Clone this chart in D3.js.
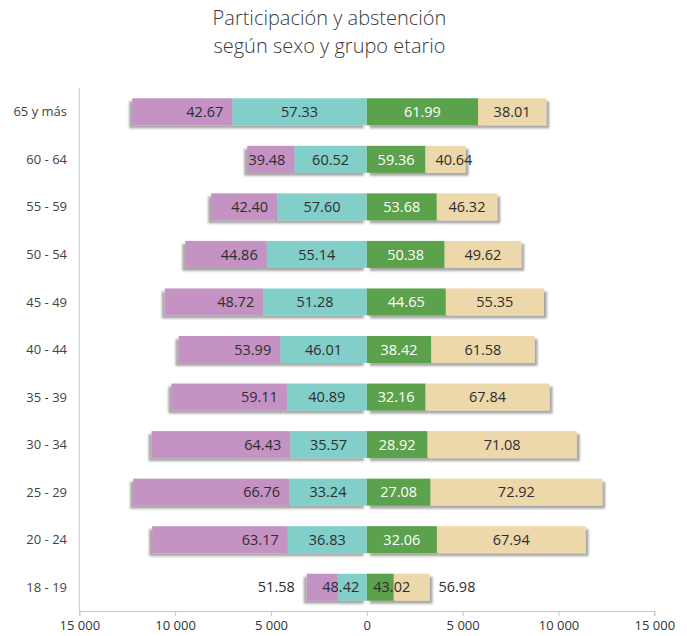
<!DOCTYPE html>
<html>
<head>
<meta charset="utf-8">
<script src="https://cdn.jsdelivr.net/npm/d3@7"></script>
<style>
  html, body { margin: 0; padding: 0; background: #fff; }
  svg { display: block; font-family: "Open Sans", "Noto Sans", sans-serif; }
</style>
</head>
<body>
<svg id="chart" width="687" height="636"></svg>
<script>
const categories = ["65 y más","60 - 64","55 - 59","50 - 54","45 - 49","40 - 44","35 - 39","30 - 34","25 - 29","20 - 24","18 - 19"];
// Left side (abstention + participation) totals and right side totals (people)
const leftTotal  = [12240, 6240, 8120, 9470, 10540, 9820, 10200, 11230, 12190, 11200, 3130];
const rightTotal = [9360, 5150, 6800, 8055, 9235, 8750, 9530, 10955, 12280, 11410, 3270];
// Percentages
const leftAbst  = [42.67, 39.48, 42.40, 44.86, 48.72, 53.99, 59.11, 64.43, 66.76, 63.17, 51.58];
const leftPart  = [57.33, 60.52, 57.60, 55.14, 51.28, 46.01, 40.89, 35.57, 33.24, 36.83, 48.42];
const rightPart = [61.99, 59.36, 53.68, 50.38, 44.65, 38.42, 32.16, 28.92, 27.08, 32.06, 43.02];
const rightAbst = [38.01, 40.64, 46.32, 49.62, 55.35, 61.58, 67.84, 71.08, 72.92, 67.94, 56.98];
const tickValues = [-15000, -10000, -5000, 0, 5000, 10000, 15000];
const titleLines = ["Participación y abstención", "según sexo y grupo etario"];

const colors = { purple: "#c493c4", teal: "#82cfca", green: "#5ba14b", beige: "#ecd8aa" };

const svg = d3.select("#chart");
const defs = svg.append("defs");
function shadow(id, dx) {
  const f = defs.append("filter").attr("id", id)
    .attr("x", "-20%").attr("y", "-40%").attr("width", "140%").attr("height", "180%");
  f.append("feDropShadow").attr("dx", dx).attr("dy", 3)
    .attr("stdDeviation", 1.2).attr("flood-color", "#000").attr("flood-opacity", 0.35);
}
shadow("shL", -3);
shadow("shR", 3);

const x = d3.scaleLinear().domain([-15000, 15000]).range([79.3, 654.3]);
const y = d3.scaleBand().domain(categories).range([88, 611]).paddingInner(0.432).paddingOuter(0.216);

// Title
svg.append("g").selectAll("text").data(titleLines).join("text")
  .attr("x", 329.5).attr("y", (d, i) => 25 + i * 28)
  .attr("text-anchor", "middle")
  .attr("font-size", 20).attr("font-weight", 300)
  .attr("fill", "#3a3a3a")
  .text(d => d);

// Left vertical axis line
svg.append("line")
  .attr("x1", x(-15000)).attr("x2", x(-15000))
  .attr("y1", 88).attr("y2", 611)
  .attr("stroke", "#c8c8c8").attr("stroke-width", 1);

// Bottom axis
const fmt = v => d3.format(",")(Math.abs(v)).replace(/,/g, " ");
const ax = svg.append("g").attr("transform", "translate(0,611)")
  .call(d3.axisBottom(x).tickValues(tickValues).tickFormat(fmt).tickSize(5).tickPadding(5));
ax.select(".domain").attr("stroke", "#c8c8c8");
ax.selectAll(".tick line").attr("stroke", "#c8c8c8");
ax.selectAll(".tick text").attr("font-size", 13).attr("fill", "#333")
  .attr("font-family", "\"Open Sans\", \"Noto Sans\", sans-serif");

// Category labels
svg.append("g").selectAll("text").data(categories).join("text")
  .attr("x", 67).attr("y", d => y(d) + y.bandwidth() / 2)
  .attr("dy", "0.35em").attr("text-anchor", "end")
  .attr("font-size", 13).attr("fill", "#444")
  .text(d => d);

// Build segments (drawn from the centre outwards so shadows fall under the next segment)
const segs = [];
categories.forEach((c, i) => {
  const la = leftTotal[i] * leftAbst[i] / 100;
  const lp = leftTotal[i] * leftPart[i] / 100;
  const rp = rightTotal[i] * rightPart[i] / 100;
  const ra = rightTotal[i] * rightAbst[i] / 100;
  segs.push({ cat: c, x0: -lp, x1: 0, color: colors.teal, label: leftPart[i].toFixed(2), kind: "innerL", side: "L" });
  segs.push({ cat: c, x0: -lp - la, x1: -lp, color: colors.purple, label: leftAbst[i].toFixed(2), kind: "outerL", side: "L" });
  segs.push({ cat: c, x0: 0, x1: rp, color: colors.green, label: rightPart[i].toFixed(2), kind: "innerR", side: "R" });
  segs.push({ cat: c, x0: rp, x1: rp + ra, color: colors.beige, label: rightAbst[i].toFixed(2), kind: "outerR", side: "R" });
});

const bh = y.bandwidth();
svg.append("g").selectAll("rect").data(segs).join("rect")
  .attr("x", d => x(d.x0)).attr("width", d => x(d.x1) - x(d.x0))
  .attr("y", d => y(d.cat)).attr("height", bh)
  .attr("fill", d => d.color)
  .attr("filter", d => d.side === "L" ? "url(#shL)" : "url(#shR)");

// Labels
const lg = svg.append("g");
segs.forEach(d => {
  const t = lg.append("text")
    .attr("y", y(d.cat) + bh / 2).attr("dy", "0.36em")
    .attr("font-size", 14.5).attr("fill", "#2e2e2e")
    .text(d.label);
  const lw = t.node().getComputedTextLength();
  const px0 = x(d.x0), px1 = x(d.x1), w = px1 - px0;
  const fits = lw <= w + 1;
  if (d.kind === "outerL") {
    if (fits) t.attr("x", px1 - 9).attr("text-anchor", "end");
    else t.attr("x", px0 - 12).attr("text-anchor", "end");
  } else if (d.kind === "outerR") {
    if (!fits) t.attr("x", px1 + 9).attr("text-anchor", "start");
    else if (lw + 10 > w) t.attr("x", px0 + 10).attr("text-anchor", "start");
    else t.attr("x", (px0 + px1) / 2).attr("text-anchor", "middle");
  } else if (d.kind === "innerL") {
    if (fits) t.attr("x", (px0 + px1) / 2).attr("text-anchor", "middle");
    else t.attr("x", px0 + 3).attr("text-anchor", "middle");
  } else {
    if (fits) t.attr("x", (px0 + px1) / 2).attr("text-anchor", "middle").attr("fill", "#fff");
    else t.attr("x", px1 - 2).attr("text-anchor", "middle");
  }
});
</script>
</body>
</html>
